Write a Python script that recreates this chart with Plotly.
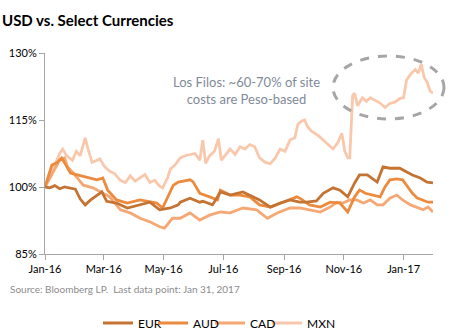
import plotly.graph_objects as go

# ---------------- data (index, Jan 1 2016 = 100%) ----------------
mxn_dates = ["2016-01-01","2016-01-06","2016-01-11","2016-01-16","2016-01-19","2016-01-23","2016-01-29",
             "2016-02-02","2016-02-06","2016-02-11","2016-02-14","2016-02-18","2016-02-23","2016-02-26",
             "2016-03-02","2016-03-07","2016-03-12","2016-03-18","2016-03-23","2016-03-28","2016-04-02",
             "2016-04-07","2016-04-12","2016-04-17","2016-04-22","2016-04-27","2016-04-30","2016-05-05",
             "2016-05-08","2016-05-13","2016-05-18","2016-05-23","2016-05-28","2016-06-02","2016-06-07",
             "2016-06-10","2016-06-13","2016-06-17","2016-06-22","2016-06-26","2016-06-29","2016-07-03",
             "2016-07-08","2016-07-13","2016-07-18","2016-07-23","2016-07-28","2016-08-02","2016-08-07",
             "2016-08-13","2016-08-18","2016-08-23","2016-08-28","2016-09-02","2016-09-07","2016-09-12",
             "2016-09-15","2016-09-19","2016-09-22","2016-09-25","2016-09-29","2016-10-06","2016-10-11",
             "2016-10-16","2016-10-21","2016-10-26","2016-10-30","2016-11-02","2016-11-05","2016-11-07",
             "2016-11-10","2016-11-12","2016-11-15","2016-11-20","2016-11-24","2016-11-28","2016-12-03",
             "2016-12-08","2016-12-13","2016-12-18","2016-12-23","2016-12-28","2017-01-01","2017-01-04",
             "2017-01-09","2017-01-13","2017-01-16","2017-01-19","2017-01-22","2017-01-25","2017-01-28",
             "2017-01-31"]
mxn_values = [100, 102.5, 105, 107.5, 108.5, 107, 106,
              108, 107, 111, 108.5, 105.5, 106, 106.3,
              104.5, 103.5, 103, 101.5, 101, 102.5, 101.3,
              102, 102.8, 101, 101.5, 100.2, 99.8, 102,
              104, 105, 106.5, 107, 107.2, 107.5, 106,
              110.5, 105.3, 107, 108, 110.8, 106, 107,
              108.5, 107.3, 109, 108.5, 109.5, 109, 106.5,
              105.5, 105.2, 106.5, 108.5, 108, 110.5, 111,
              114, 114.8, 115, 113.5, 112.5, 111.5, 110.5,
              109.5, 108.5, 110, 112, 108, 106.5, 106.5,
              120.5, 121, 118.2, 120, 119.2, 120, 119.3,
              118.8, 117.8, 118.7, 119, 119.8, 120, 124,
              125.5, 126.3, 125.5, 127.5, 124.5, 123.5, 121.5,
              121]

eur_dates = ["2016-01-01","2016-01-06","2016-01-11","2016-01-16","2016-01-21","2016-01-27","2016-02-01",
             "2016-02-06","2016-02-11","2016-02-16","2016-02-23","2016-02-28","2016-03-04","2016-03-14",
             "2016-03-25","2016-04-07","2016-04-17","2016-04-27","2016-05-08","2016-05-16","2016-05-18",
             "2016-05-28","2016-06-07","2016-06-10","2016-06-20","2016-06-28","2016-07-08","2016-07-21",
             "2016-07-28","2016-08-07","2016-08-18","2016-08-28","2016-09-07","2016-09-17","2016-09-24",
             "2016-10-04","2016-10-11","2016-10-21","2016-10-28","2016-11-05","2016-11-12","2016-11-17",
             "2016-11-25","2016-12-05","2016-12-11","2016-12-18","2016-12-28","2017-01-04","2017-01-10",
             "2017-01-18","2017-01-25","2017-01-31"]
eur_values = [100, 99.8, 100.3, 99.6, 100, 99.7, 99.5,
              97.3, 96, 97, 98, 98.9, 96.8, 96.4,
              95.3, 96, 96.6, 94.9, 95.3, 96, 96.6,
              97.5, 96.6, 96.8, 96, 98.9, 98.2, 98.9,
              98.2, 97.1, 95.5, 96.4, 97.1, 96.6, 96.6,
              96.9, 98.6, 99.8, 99.3, 97.8, 100.9, 102.7,
              102.7, 101.1, 104.5, 104.2, 104.2, 103.4, 102.7,
              102, 101.1, 100.9]

aud_dates = ["2016-01-01","2016-01-08","2016-01-13","2016-01-18","2016-01-21","2016-01-27","2016-02-03",
             "2016-02-13","2016-02-23","2016-02-29","2016-03-05","2016-03-14","2016-03-25","2016-04-07",
             "2016-04-17","2016-04-24","2016-04-30","2016-05-06","2016-05-11","2016-05-16","2016-05-28",
             "2016-05-31","2016-06-07","2016-06-17","2016-06-25","2016-06-28","2016-07-08","2016-07-18",
             "2016-07-28","2016-08-07","2016-08-18","2016-08-31","2016-09-14","2016-09-17","2016-09-27",
             "2016-10-08","2016-10-18","2016-10-28","2016-11-05","2016-11-12","2016-11-17","2016-11-23",
             "2016-12-01","2016-12-08","2016-12-13","2016-12-18","2016-12-25","2016-12-31","2017-01-04",
             "2017-01-10","2017-01-15","2017-01-21","2017-01-26","2017-01-31"]
aud_values = [100, 104.9, 105.4, 106.5, 105.4, 103.1, 102.7,
              102.2, 101.6, 102, 99.3, 97.1, 96.4, 97.1,
              96.6, 96.4, 95.3, 98.2, 100.4, 101.1, 101.6,
              101.2, 98.6, 97.8, 97.1, 99.3, 98.2, 98.2,
              97.8, 96, 95.5, 96.6, 97.8, 97.5, 96,
              95.5, 96.6, 96.4, 94.4, 97.8, 99.3, 98.6,
              98.2, 97.8, 100, 101.6, 101.8, 101.6, 100.4,
              98.6, 97.5, 97.1, 96.6, 96.6]

cad_dates = ["2016-01-01","2016-01-09","2016-01-16","2016-01-21","2016-01-24","2016-01-30","2016-02-09",
             "2016-02-19","2016-02-29","2016-03-07","2016-03-18","2016-03-28","2016-04-07","2016-04-17",
             "2016-04-27","2016-05-02","2016-05-10","2016-05-18","2016-05-28","2016-06-07","2016-06-17",
             "2016-06-28","2016-07-08","2016-07-21","2016-08-04","2016-08-15","2016-08-25","2016-09-07",
             "2016-09-17","2016-09-27","2016-10-08","2016-10-18","2016-10-25","2016-10-31","2016-11-07",
             "2016-11-14","2016-11-21","2016-11-28","2016-12-05","2016-12-11","2016-12-18","2016-12-25",
             "2016-12-31","2017-01-08","2017-01-15","2017-01-21","2017-01-26","2017-01-31"]
cad_values = [100, 103.1, 106, 106.5, 104.5, 103.1, 100.4,
              99.8, 98.6, 97.8, 94.9, 94.2, 93, 92.2,
              91.1, 90.8, 93, 93, 94.2, 92.6, 93.7,
              94.4, 94.2, 95.3, 94.9, 93, 94.2, 95.3,
              95.3, 94.9, 94.4, 95.5, 96.6, 96.4, 97.1,
              97.1, 96.4, 97.1, 96, 96, 97.5, 98.2,
              97.1, 96, 95.5, 94.9, 95.5, 94.4]

series_names = ["EUR", "AUD", "CAD", "MXN"]
series_colors = ["#C47332", "#EC8A3E", "#F6A874", "#F9C8AC"]

x_tick_vals = ["2016-01-01","2016-03-01","2016-05-01","2016-07-01","2016-09-01","2016-11-01","2017-01-01"]
x_tick_text = ["Jan-16","Mar-16","May-16","Jul-16","Sep-16","Nov-16","Jan-17"]
y_tick_vals = [85, 100, 115, 130]
y_tick_text = ["85%", "100%", "115%", "130%"]

# ---------------- figure ----------------
fig = go.Figure()
series = [(eur_dates, eur_values), (aud_dates, aud_values), (cad_dates, cad_values), (mxn_dates, mxn_values)]
legend_ids = ["legend", "legend2", "legend3", "legend4"]
order = [3, 2, 1, 0]
for i in order:
    d, v = series[i]
    fig.add_trace(go.Scatter(x=d, y=v, mode="lines", name=series_names[i],
                             line=dict(color=series_colors[i], width=2.8),
                             legend=legend_ids[i]))

font_family = "Lato, Open Sans, Liberation Sans, sans-serif"

# one single-entry legend per series, laid out in a row under the chart
legend_text_px = [138, 193, 250, 307]
legend_common = dict(orientation="h", yanchor="middle", y=(254 - 323) / 201, xanchor="left",
                     font=dict(size=12, color="#000000", family=font_family), itemwidth=30,
                     bgcolor="rgba(0,0,0,0)", borderwidth=0)
legend_layout = {}
for lid, tx in zip(legend_ids, legend_text_px):
    legend_layout[lid] = dict(legend_common, x=(tx - 40 - 45) / 388)

fig.update_layout(
    width=453, height=335,
    margin=dict(l=45, r=20, t=53, b=81, autoexpand=False),
    paper_bgcolor="white", plot_bgcolor="white",
    font=dict(family=font_family, size=11, color="#000000"),
    showlegend=True,
    xaxis=dict(range=["2016-01-01", "2017-01-31"], tickvals=x_tick_vals, ticktext=x_tick_text,
               showgrid=False, zeroline=False, showline=True, linecolor="#A6A6A6", linewidth=1,
               ticks="outside", ticklen=5, tickcolor="#A6A6A6", tickfont=dict(size=11, color="#000000")),
    yaxis=dict(range=[85, 130], tickvals=y_tick_vals, ticktext=y_tick_text,
               showgrid=False, zeroline=False, showline=True, linecolor="#A6A6A6", linewidth=1,
               ticks="outside", ticklen=5, tickcolor="#A6A6A6", tickfont=dict(size=11, color="#000000")),
    **legend_layout,
)

fig.add_annotation(text="<b>USD vs. Select Currencies</b>", xref="paper", yref="paper",
                   x=-45/388, y=1 + 33/201, xanchor="left", yanchor="middle", showarrow=False,
                   font=dict(size=15, color="#000000", family=font_family))
fig.add_annotation(text="Source: Bloomberg LP.  Last data point: Jan 31, 2017", xref="paper", yref="paper",
                   x=-37/388, y=-35/201, xanchor="left", yanchor="middle", showarrow=False,
                   font=dict(size=10, color="#8C8C8C", family=font_family))
fig.add_annotation(text="Los Filos: ~60-70% of site<br>costs are Peso-based", xref="paper", yref="paper",
                   x=(246 - 45)/388, y=(254 - 90)/201, xanchor="center", yanchor="middle", showarrow=False,
                   align="center", font=dict(size=13, color="#7F8A99", family=font_family))
fig.add_shape(type="circle", xref="paper", yref="paper",
              x0=(333 - 45)/388, x1=(444 - 45)/388, y0=(254 - 119)/201, y1=(254 - 56)/201,
              line=dict(color="#A6A6A6", width=3, dash="dash"))

fig.write_html("out.html")
